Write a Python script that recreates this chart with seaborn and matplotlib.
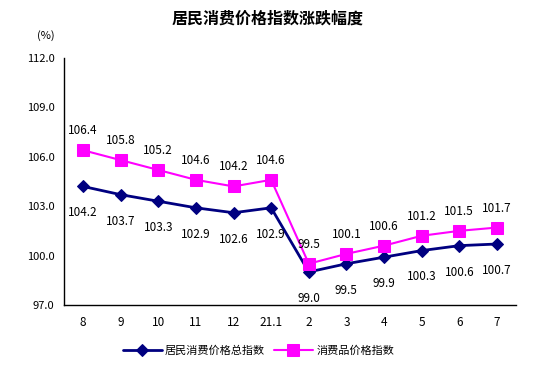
import matplotlib
matplotlib.use("Agg")
import matplotlib.pyplot as plt
import seaborn as sns
import pandas as pd

months = ["8", "9", "10", "11", "12", "21.1", "2", "3", "4", "5", "6", "7"]
cpi_total = [104.2, 103.7, 103.3, 102.9, 102.6, 102.9, 99.0, 99.5, 99.9, 100.3, 100.6, 100.7]
cpi_goods = [106.4, 105.8, 105.2, 104.6, 104.2, 104.6, 99.5, 100.1, 100.6, 101.2, 101.5, 101.7]
yticks = [97.0, 100.0, 103.0, 106.0, 109.0, 112.0]

sns.set_style("white", {"text.color": "black", "xtick.color": "black",
                        "ytick.color": "black", "axes.labelcolor": "black"})
plt.rcParams['font.family'] = ['Noto Sans CJK SC', 'DejaVu Sans']

df = pd.DataFrame({"pos": range(len(months)), "total": cpi_total, "goods": cpi_goods})

fig = plt.figure(figsize=(5.35, 3.7), dpi=100)
ax = fig.add_axes([0.12, 0.176, 0.844, 0.667])

sns.lineplot(data=df, x="pos", y="total", ax=ax, color="#000080", linewidth=2,
             marker="D", markersize=6.5, markeredgecolor="#000080", label="居民消费价格总指数")
sns.lineplot(data=df, x="pos", y="goods", ax=ax, color="#FF00FF", linewidth=1.5,
             marker="s", markersize=9, markeredgecolor="#FF00FF", label="消费品价格指数")

for i, v in enumerate(cpi_total):
    ax.annotate(f"{v:.1f}", (i, v), xytext=(0, -19), textcoords="offset points",
                ha="center", va="center", fontsize=8.5, color="black")
for i, v in enumerate(cpi_goods):
    ax.annotate(f"{v:.1f}", (i, v), xytext=(0, 14), textcoords="offset points",
                ha="center", va="center", fontsize=8.5, color="black")

ax.set_xlim(-0.5, len(months) - 0.5)
ax.set_ylim(97, 112)
ax.set_yticks(yticks)
ax.set_yticklabels([f"{t:.1f}" for t in yticks], fontsize=8)
ax.set_xticks([i - 0.5 for i in range(len(months) + 1)])
ax.set_xticklabels([])
ax.set_xticks(range(len(months)), minor=True)
ax.set_xticklabels(months, minor=True, fontsize=8.5)
ax.tick_params(axis="x", which="major", length=4, direction="in", width=1)
ax.tick_params(axis="x", which="minor", length=0, pad=8)
ax.tick_params(axis="y", length=4, direction="out", width=1, pad=3)
ax.set_xlabel("")
ax.set_ylabel("")
for s in ["top", "right"]:
    ax.spines[s].set_visible(False)
for s in ["left", "bottom"]:
    ax.spines[s].set_color("black")
    ax.spines[s].set_linewidth(1)

fig.text(0.5, 0.95, "居民消费价格指数涨跌幅度", ha="center", va="center",
         fontsize=11.5, fontweight="bold", color="black")
fig.text(0.085, 0.905, "(%)", ha="center", va="center", fontsize=8, color="black")

ax.legend(loc="upper center", bbox_to_anchor=(0.43, -0.125), ncol=2, frameon=False,
          fontsize=8, handlelength=3.5, columnspacing=0.8, handletextpad=0.3)

fig.savefig("out.png", dpi=100, facecolor="white")
